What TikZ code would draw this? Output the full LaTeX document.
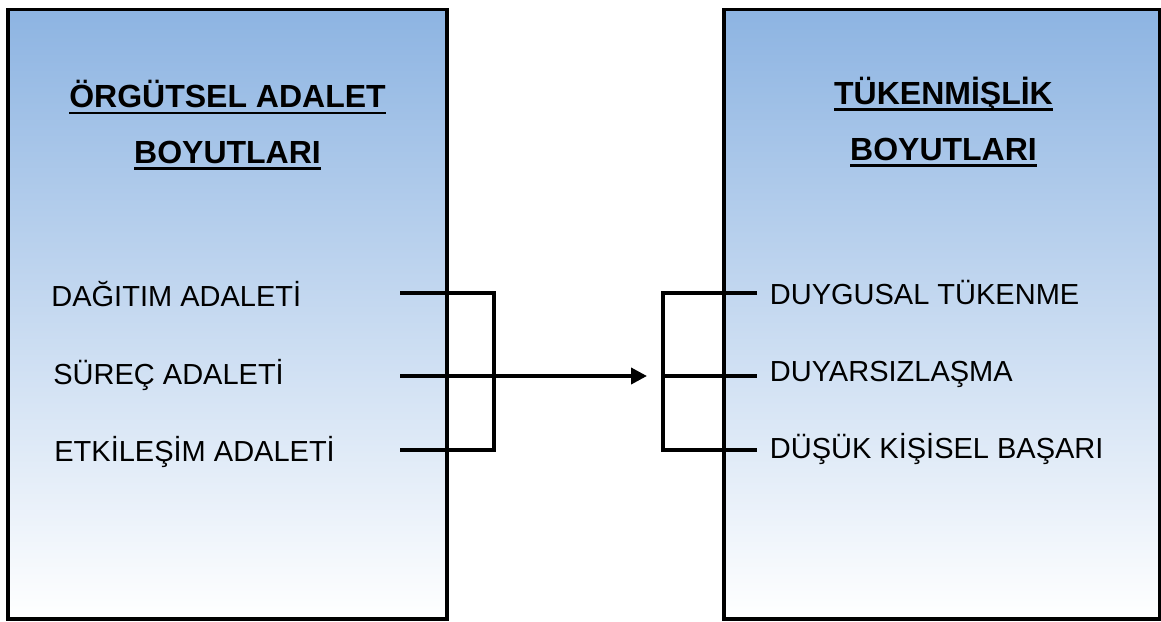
\documentclass[tikz,border=0pt]{standalone}
\usepackage{fontspec}
\setmainfont{Liberation Sans}
\usetikzlibrary{arrows.meta}
\definecolor{boxblue}{RGB}{141,180,226}
\newcommand\ulin[1]{\setbox0\hbox{#1}\rlap{\rule[-0.21em]{\wd0}{0.09em}}\box0}% underlined title line
\tikzset{
	panel/.style={draw=black, line width=1.8pt, top color=boxblue, bottom color=white},
	head/.style={inner sep=0pt, anchor=base, font=\fontsize{16}{19}\selectfont\bfseries},
	item/.style={inner sep=0pt, anchor=base west, font=\fontsize{14.5}{17}\selectfont},
	link/.style={line width=1.9pt},
}
\begin{document}
\begin{tikzpicture}[x=0.5pt,y=-0.5pt]
	\useasboundingbox (0,0) rectangle (1161,621);
	%BOXES
	\draw[panel] (8,9.5) rectangle (447,619);		%left
	\draw[panel] (724,9.5) rectangle (1159.5,619);	%right
	
	%TITLES
	\node[head] (ltitle)  at (227.5,107.7) {\ulin{ÖRGÜTSEL ADALET}};
	\node[head] (ltitleb) at (227.5,163)   {\ulin{BOYUTLARI}};
	\node[head] (rtitle)  at (943.5,104.3) {\ulin{TÜKENMİŞLİK}};
	\node[head] (rtitleb) at (943.5,160)   {\ulin{BOYUTLARI}};
	
	%ITEMS
	\node[item] (dagitim)  at (51,306)   {DAĞITIM ADALETİ};
	\node[item] (surec)    at (53,384)   {SÜREÇ ADALETİ};
	\node[item] (etkilesim) at (54,461.7) {ETKİLEŞİM ADALETİ};
	%
	\node[item] (duygusal) at (769.5,304.3) {DUYGUSAL TÜKENME};
	\node[item] (duyarsiz) at (769.5,381.7) {DUYARSIZLAŞMA};
	\node[item] (dusuk)    at (769.5,458.3) {DÜŞÜK KİŞİSEL BAŞARI};
	
	%BRACKETS
	\coordinate (la) at (400,293);
	\coordinate (lb) at (400,376);
	\coordinate (lc) at (400,450);
	\coordinate (lcorner) at (494,450);
	\coordinate (tip) at (647,376);
	\coordinate (ra) at (757,293);
	\coordinate (rb) at (757,376);
	\coordinate (rc) at (757,450);
	\coordinate (rcorner) at (663,450);
	\coordinate (rmid) at (663,376);
	%
	\draw[link] (la) -| (lcorner) -- (lc);
	\draw[link,-{Triangle[length=8pt,width=8pt]}] (lb) -- (tip);
	\draw[link] (ra) -| (rcorner) -- (rc);
	\draw[link] (rmid) -- (rb);
\end{tikzpicture}
\end{document}
